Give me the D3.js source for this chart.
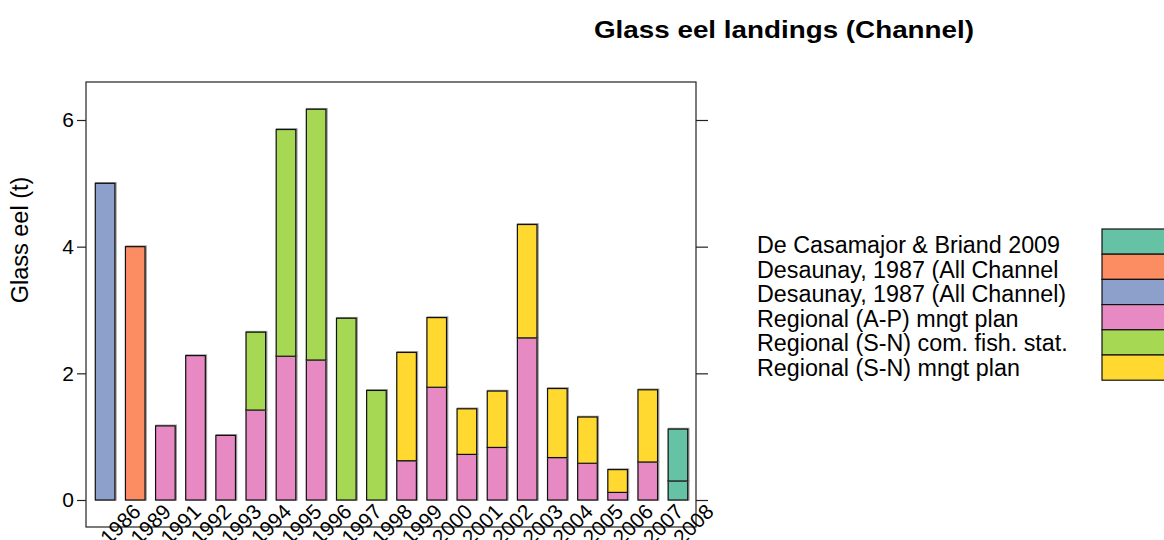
<!DOCTYPE html>
<html>
<head>
<meta charset="utf-8">
<script src="https://cdn.jsdelivr.net/npm/d3@7"></script>
<style>
  body { margin: 0; background: #fff; }
  text { font-family: "Liberation Sans", Arial, sans-serif; fill: #000; }
</style>
</head>
<body>
<div id="container"></div>
<script>
/* DATA */
const years = ["1986", "1989", "1991", "1992", "1993", "1994", "1995", "1996", "1997", "1998",
  "1999", "2000", "2001", "2002", "2003", "2004", "2005", "2006", "2007", "2008"];

// one value per bar, stacked bottom to top in this order
const desaunayAll   = [5.0, 0, 0, 0, 0, 0, 0, 0, 0, 0, 0, 0, 0, 0, 0, 0, 0, 0, 0, 0];
const desaunayOpen  = [0, 4.0, 0, 0, 0, 0, 0, 0, 0, 0, 0, 0, 0, 0, 0, 0, 0, 0, 0, 0];
const apPlan        = [0, 0, 1.17, 2.28, 1.02, 1.42, 2.27, 2.21, 0, 0, 0.62, 1.78, 0.72, 0.83, 2.56, 0.67, 0.58, 0.12, 0.60, 0];
const snStat        = [0, 0, 0, 0, 0, 1.23, 3.58, 3.96, 2.87, 1.73, 0, 0, 0, 0, 0, 0, 0, 0, 0, 0];
const snPlan        = [0, 0, 0, 0, 0, 0, 0, 0, 0, 0, 1.71, 1.10, 0.72, 0.89, 1.79, 1.09, 0.73, 0.36, 1.14, 0];
const casamajorLow  = [0, 0, 0, 0, 0, 0, 0, 0, 0, 0, 0, 0, 0, 0, 0, 0, 0, 0, 0, 0.30];
const casamajorHigh = [0, 0, 0, 0, 0, 0, 0, 0, 0, 0, 0, 0, 0, 0, 0, 0, 0, 0, 0, 0.82];

const legendLabels = ["De Casamajor & Briand 2009", "Desaunay, 1987 (All Channel",
  "Desaunay, 1987 (All Channel)", "Regional (A-P) mngt plan",
  "Regional (S-N) com. fish. stat.", "Regional (S-N) mngt plan"];
const legendColors = ["#66C2A5", "#FC8D62", "#8DA0CB", "#E78AC3", "#A6D854", "#FFD92F"];

const yTicks = [0, 2, 4, 6];

/* CONSTANTS */
const width = 1164, height = 540;
const box = { left: 86, right: 696, top: 82, bottom: 527 };

const keys = ["desaunayAll", "desaunayOpen", "apPlan", "snStat", "snPlan", "casamajorLow", "casamajorHigh"];
const keyColor = {
  desaunayAll: "#8DA0CB", desaunayOpen: "#FC8D62", apPlan: "#E78AC3",
  snStat: "#A6D854", snPlan: "#FFD92F", casamajorLow: "#66C2A5", casamajorHigh: "#66C2A5"
};
const seriesValues = { desaunayAll, desaunayOpen, apPlan, snStat, snPlan, casamajorLow, casamajorHigh };

const table = years.map((yr, i) => {
  const row = { year: yr };
  keys.forEach(k => row[k] = seriesValues[k][i]);
  return row;
});

/* SCALES */
const x = d3.scaleBand()
  .domain(years)
  .range([90, 693])
  .paddingInner(0.35)
  .paddingOuter(0.175);

const y = d3.scaleLinear()
  .domain([0, 6])
  .range([500, 120]);

const svg = d3.select("#container")
  .append("svg")
  .attr("width", width)
  .attr("height", height);

// plot frame
svg.append("rect")
  .attr("x", box.left).attr("y", box.top)
  .attr("width", box.right - box.left).attr("height", box.bottom - box.top)
  .attr("fill", "none").attr("stroke", "#222").attr("stroke-width", 1.2);

/* BARS */
const stacked = d3.stack().keys(keys)(table);

const layers = svg.selectAll("g.layer")
  .data(stacked)
  .join("g")
  .attr("class", "layer");

const segs = layers.selectAll("g.seg")
  .data(s => s.filter(d => d[1] - d[0] > 0).map(d => ({ d, key: s.key })))
  .join("g")
  .attr("class", "seg");

// soft grey halo like the antialiased original
segs.append("rect")
  .attr("x", e => x(e.d.data.year) + 0.8)
  .attr("y", e => y(e.d[1]) - 0.3)
  .attr("width", x.bandwidth())
  .attr("height", e => y(e.d[0]) - y(e.d[1]))
  .attr("fill", "none")
  .attr("stroke", "#9a9a9a")
  .attr("stroke-width", 2);

segs.append("rect")
  .attr("x", e => x(e.d.data.year))
  .attr("y", e => y(e.d[1]))
  .attr("width", x.bandwidth())
  .attr("height", e => y(e.d[0]) - y(e.d[1]))
  .attr("fill", e => keyColor[e.key])
  .attr("stroke", "#111")
  .attr("stroke-width", 1.2);

/* AXES */
const leftAxis = svg.append("g")
  .attr("transform", `translate(${box.left},0)`)
  .call(d3.axisLeft(y).tickValues(yTicks).tickSize(9).tickPadding(3).tickFormat(d3.format("d")));
leftAxis.select(".domain").remove();
leftAxis.selectAll("line").attr("stroke", "#222").attr("stroke-width", 1.2);
leftAxis.selectAll("text").attr("font-size", 21).attr("font-family", "Liberation Sans, Arial, sans-serif");

const rightAxis = svg.append("g")
  .attr("transform", `translate(${box.right},0)`)
  .call(d3.axisRight(y).tickValues(yTicks).tickSize(12).tickFormat(""));
rightAxis.select(".domain").remove();
rightAxis.selectAll("line").attr("stroke", "#222").attr("stroke-width", 1.2);

// rotated year labels
svg.selectAll("text.year")
  .data(years)
  .join("text")
  .attr("class", "year")
  .attr("text-anchor", "end")
  .attr("font-size", 21)
  .attr("transform", d => `translate(${x(d) + x.bandwidth() / 2 + 37},513) rotate(-45)`)
  .text(d => d);

// y title
svg.append("text")
  .attr("transform", "translate(28,240) rotate(-90)")
  .attr("text-anchor", "middle")
  .attr("font-size", 23.5)
  .text("Glass eel (t)");

// main title
svg.append("text")
  .attr("x", 594).attr("y", 38)
  .attr("font-size", 24)
  .attr("font-weight", "bold")
  .attr("textLength", 380)
  .attr("lengthAdjust", "spacingAndGlyphs")
  .text("Glass eel landings (Channel)");

/* LEGEND */
const legend = svg.append("g");
const rowH = 25.2;

legend.selectAll("rect")
  .data(legendColors)
  .join("rect")
  .attr("x", 1102)
  .attr("y", (d, i) => 229 + i * rowH)
  .attr("width", 80)
  .attr("height", rowH)
  .attr("fill", d => d)
  .attr("stroke", "#111")
  .attr("stroke-width", 1.2);

legend.selectAll("text")
  .data(legendLabels)
  .join("text")
  .attr("x", 757)
  .attr("y", (d, i) => 253 + i * 24.6)
  .attr("font-size", 23.3)
  .text(d => d);
</script>
</body>
</html>
